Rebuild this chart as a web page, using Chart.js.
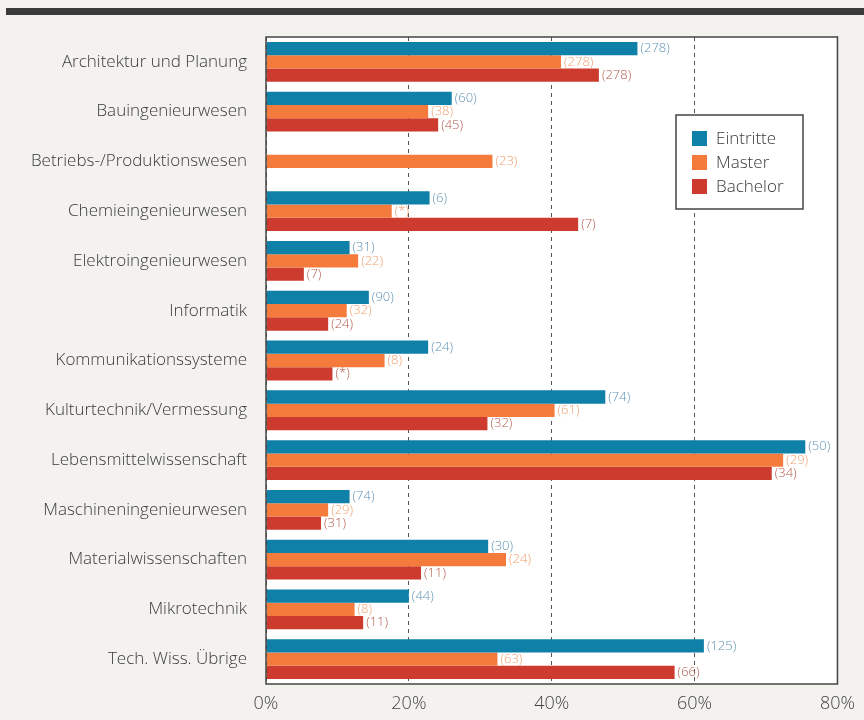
<!DOCTYPE html>
<html lang="de">
<head>
    <meta charset="UTF-8">
    <title>Eintritte, Master, Bachelor nach Fachbereich</title>
    <script src="https://cdn.jsdelivr.net/npm/chart.js"></script>
    <style>
        html, body { margin: 0; padding: 0; background: #f3f2ef; }
        #wrap { position: relative; width: 864px; height: 720px; }
    </style>
</head>
<body>
    <div id="wrap"><canvas id="chart"></canvas></div>

    <script>
        // Data (percent), counts shown in brackets
        const categories = [
            'Architektur und Planung', 'Bauingenieurwesen', 'Betriebs-/Produktionswesen',
            'Chemieingenieurwesen', 'Elektroingenieurwesen', 'Informatik',
            'Kommunikationssysteme', 'Kulturtechnik/Vermessung', 'Lebensmittelwissenschaft',
            'Maschineningenieurwesen', 'Materialwissenschaften', 'Mikrotechnik', 'Tech. Wiss. Übrige'
        ];
        const eintritte = [52.0, 26.0, null, 22.9, 11.7, 14.4, 22.7, 47.5, 75.5, 11.7, 31.1, 20.0, 61.3];
        const master    = [41.3, 22.7, 31.7, 17.6, 12.9, 11.3, 16.6, 40.4, 72.4, 8.7, 33.6, 12.4, 32.4];
        const bachelor  = [46.6, 24.1, null, 43.7, 5.3, 8.7, 9.3, 31.0, 70.8, 7.7, 21.7, 13.6, 57.2];

        const eintritteN = ['278', '60', null, '6', '31', '90', '24', '74', '50', '74', '30', '44', '125'];
        const masterN    = ['278', '38', '23', '*', '22', '32', '8', '61', '29', '29', '24', '8', '63'];
        const bachelorN  = ['278', '45', null, '7', '7', '24', '*', '32', '34', '31', '11', '11', '66'];

        const xTicks = [0, 20, 40, 60, 80];

        const FONT = '"Open Sans", "DejaVu Sans", sans-serif';

        // paper background, dark band, white plot area, frame
        const backdrop = {
            id: 'backdrop',
            beforeDraw(chart) {
                const { ctx, chartArea: a } = chart;
                ctx.save();
                ctx.fillStyle = '#f3f2ef';
                ctx.fillRect(0, 0, chart.width, chart.height);
                ctx.fillStyle = '#3b3b3b';
                ctx.fillRect(6, 8, chart.width - 6, 7);
                ctx.fillStyle = '#ffffff';
                ctx.fillRect(a.left, a.top, a.right - a.left, a.bottom - a.top);
                ctx.restore();
            },
            afterDraw(chart) {
                const { ctx, chartArea: a } = chart;
                ctx.save();
                ctx.strokeStyle = '#444';
                ctx.lineWidth = 1.5;
                ctx.strokeRect(a.left, a.top, a.right - a.left, a.bottom - a.top);
                ctx.restore();
            }
        };

        // bracketed counts next to each bar
        const countLabels = {
            id: 'countLabels',
            afterDatasetsDraw(chart) {
                const { ctx } = chart;
                ctx.save();
                ctx.font = '300 13px ' + FONT;
                ctx.textBaseline = 'middle';
                ctx.textAlign = 'left';
                chart.data.datasets.forEach((ds, i) => {
                    const meta = chart.getDatasetMeta(i);
                    meta.data.forEach((bar, j) => {
                        const n = ds.counts[j];
                        if (n === null || ds.data[j] === null) return;
                        ctx.fillStyle = ds.labelColor;
                        ctx.fillText('(' + n + ')', bar.x + 3, bar.y);
                    });
                });
                ctx.restore();
            }
        };

        // legend box inside the plot
        const boxLegend = {
            id: 'boxLegend',
            afterDraw(chart) {
                const { ctx } = chart;
                const x = 676, y = 115, w = 127, h = 94;
                ctx.save();
                ctx.fillStyle = '#fff';
                ctx.fillRect(x, y, w, h);
                ctx.strokeStyle = '#444';
                ctx.lineWidth = 1.5;
                ctx.strokeRect(x, y, w, h);
                ctx.font = '300 17px ' + FONT;
                ctx.textBaseline = 'middle';
                chart.data.datasets.forEach((ds, i) => {
                    const cy = y + 23 + i * 24;
                    ctx.fillStyle = ds.backgroundColor;
                    ctx.fillRect(x + 16, cy - 7, 15, 15);
                    ctx.fillStyle = '#3a3a3a';
                    ctx.fillText(ds.label, x + 40, cy + 1);
                });
                ctx.restore();
            }
        };

        new Chart(document.getElementById('chart'), {
            type: 'bar',
            data: {
                labels: categories,
                datasets: [
                    { label: 'Eintritte', data: eintritte, counts: eintritteN, backgroundColor: '#0f80a8', labelColor: '#5f93b3' },
                    { label: 'Master', data: master, counts: masterN, backgroundColor: '#f47b3b', labelColor: '#f0a070' },
                    { label: 'Bachelor', data: bachelor, counts: bachelorN, backgroundColor: '#cd3b2f', labelColor: '#b35a4d' }
                ]
            },
            options: {
                indexAxis: 'y',
                responsive: true,
                maintainAspectRatio: false,
                animation: false,
                layout: { padding: { top: 37, right: 26, bottom: 0, left: 0 } },
                datasets: { bar: { categoryPercentage: 0.8, barPercentage: 1.0 } },
                plugins: { legend: { display: false }, tooltip: { enabled: false } },
                scales: {
                    x: {
                        min: 0, max: 80,
                        afterBuildTicks(scale) { scale.ticks = xTicks.map(v => ({ value: v })); },
                        afterFit(scale) { scale.height = 720 - 684; },
                        ticks: {
                            callback: v => v + '%',
                            color: '#444',
                            font: { family: FONT, size: 18, weight: 300 },
                            padding: 9
                        },
                        grid: { color: '#555', lineWidth: 1, drawTicks: false },
                        border: { display: false, dash: [4, 4] }
                    },
                    y: {
                        afterFit(scale) { scale.width = 266; },
                        grid: { display: false, drawTicks: false },
                        border: { display: false },
                        ticks: {
                            color: '#3a3a3a',
                            font: { family: FONT, size: 17, weight: 300 },
                            padding: 19
                        }
                    }
                }
            },
            plugins: [backdrop, countLabels, boxLegend]
        });
    </script>
</body>
</html>
